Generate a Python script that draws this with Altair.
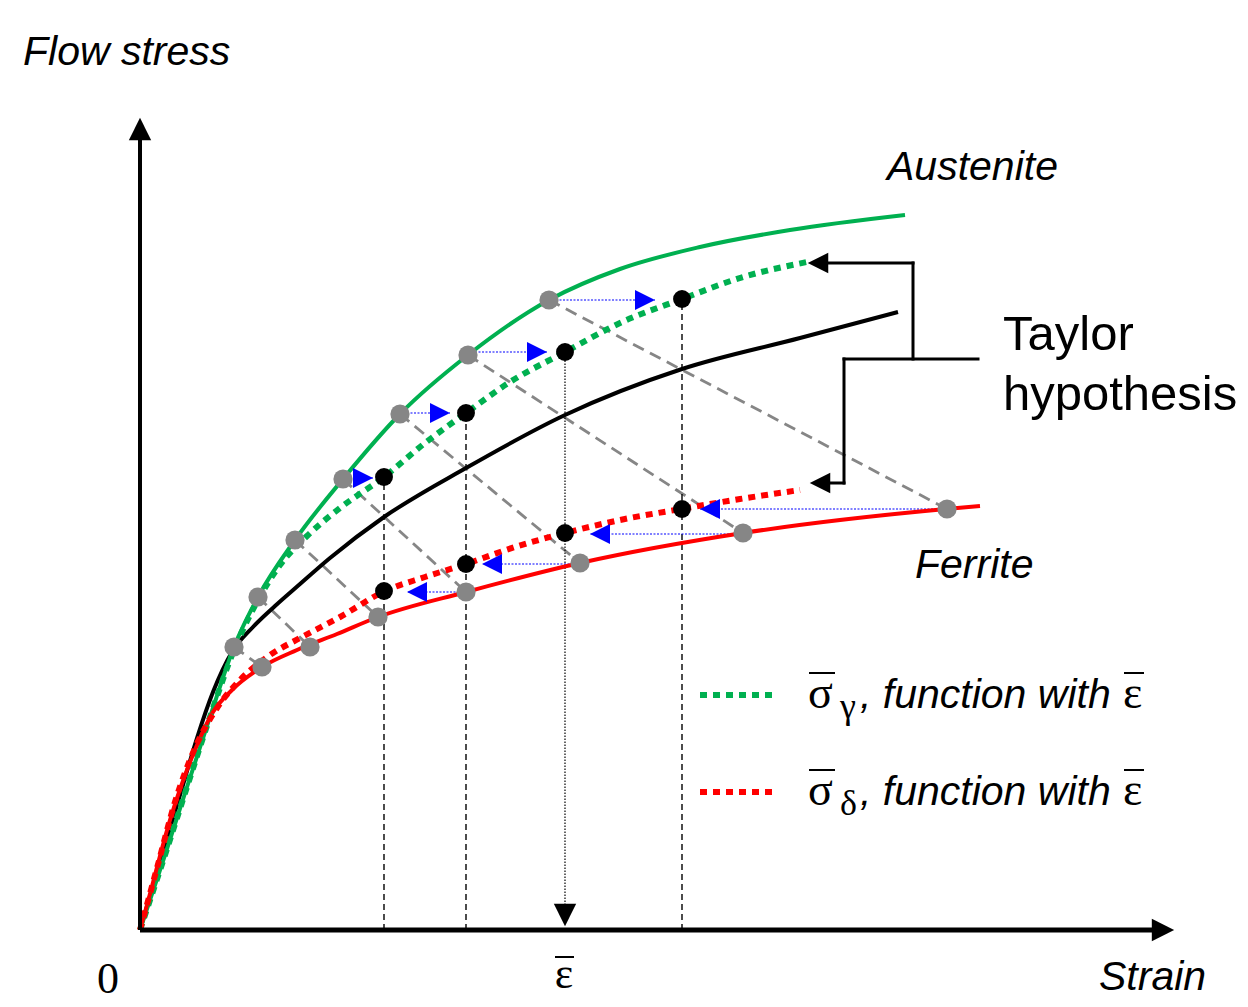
import altair as alt
import pandas as pd

# ---- curves (strain, stress) in drawing units, origin at 0,0 ----
aus_x = [0, 25, 47, 70, 94, 118, 155, 203, 260, 328, 409, 480, 560, 650, 765]
aus_y = [0, 75, 143, 213, 283, 333, 390, 451, 516, 575, 630, 661, 683, 700, 715]

sg_x = [0, 25, 47, 70, 94, 118, 140, 167, 200, 244, 285, 326, 370, 425, 480, 542, 603, 667]
sg_y = [0, 75, 143, 213, 280, 330, 365, 394, 422, 453, 487, 517, 548, 578, 607, 631, 653, 668]

mix_x = [0, 20, 40, 57, 73, 92, 113, 135, 160, 190, 244, 326, 425, 542, 660, 758]
mix_y = [0, 68, 135, 192, 238, 278, 303, 324, 346, 372, 413, 462, 515, 561, 592, 618]

fer_x = [0, 7, 30, 57, 73, 92, 122, 157, 197, 238, 326, 440, 603, 806, 840]
fer_y = [0, 25, 110, 185, 218, 240, 263, 280, 296, 313, 338, 367, 397, 421, 424]

sd_x = [0, 17, 35, 55, 77, 100, 130, 160, 200, 245, 285, 326, 375, 425, 480, 541, 600, 660]
sd_y = [0, 62, 128, 182, 222, 250, 275, 292, 313, 339, 353, 366, 383, 397, 410, 421, 431, 440]

# grey points on austenite / ferrite curves (paired)
ga_x = [94, 118, 155, 203, 260, 328, 409]
ga_y = [283, 333, 390, 451, 516, 575, 630]
gf_x = [122, 170, 238, 326, 440, 603, 807]
gf_y = [263, 283, 313, 338, 367, 397, 421]

# black points on the sigma-gamma / sigma-delta curves
bg_x = [244, 326, 425, 542]
bg_y = [453, 517, 578, 631]
bd_x = [244, 326, 425, 542]
bd_y = [339, 366, 397, 421]

# blue transfer arrows (start, tip, level)
br_x1 = [203, 260, 328, 409]
br_x2 = [233, 310, 407, 515]
br_y = [452, 517, 578, 630]
bl_x1 = [326, 440, 603, 807]
bl_x2 = [267, 342, 450, 560]
bl_y = [338, 366, 396, 421]

# Taylor bracket segments
tb_x1 = [688, 773, 704, 704, 690]
tb_x2 = [773, 773, 838, 704, 704]
tb_y1 = [667, 667, 571, 571, 447]
tb_y2 = [667, 571, 571, 447, 447]

# overbars for sigma / epsilon symbols
ob_x1 = [669, 669, 984, 984, 415]
ob_x2 = [695, 695, 1004, 1004, 434]
ob_y = [257, 160, 257, 160, -27]

XDOM = [-132, 1100]
YDOM = [-77, 922]

def X(f):
    return alt.X(f, type="quantitative", scale=alt.Scale(domain=XDOM, nice=False, zero=False), axis=None)

def Y(f):
    return alt.Y(f, type="quantitative", scale=alt.Scale(domain=YDOM, nice=False, zero=False), axis=None)

def curve(xs, ys, color, width, dash=None):
    df = pd.DataFrame({"strain": xs, "stress": ys})
    kw = dict(color=color, strokeWidth=width, interpolate="monotone", clip=False)
    if dash:
        kw["strokeDash"] = dash
    return alt.Chart(df).mark_line(**kw).encode(x=X("strain"), y=Y("stress"), order="strain:Q")

def rules(x1, y1, x2, y2, color, width, dash=None, cap="butt"):
    df = pd.DataFrame({"a": x1, "b": y1, "c": x2, "d": y2})
    kw = dict(color=color, strokeWidth=width, strokeCap=cap)
    if dash:
        kw["strokeDash"] = dash
    return alt.Chart(df).mark_rule(**kw).encode(x=X("a"), y=Y("b"), x2="c:Q", y2="d:Q")

def points(xs, ys, color, size, shape="circle"):
    df = pd.DataFrame({"a": xs, "b": ys})
    return alt.Chart(df).mark_point(filled=True, color=color, size=size, shape=shape,
                                    opacity=1, strokeWidth=0).encode(x=X("a"), y=Y("b"))

RIGHT = "M-1,-1L1,0L-1,1Z"
LEFT = "M1,-1L-1,0L1,1Z"
UP = "M-1,1L0,-1L1,1Z"
DOWN = "M-1,-1L0,1L1,-1Z"

GREEN = "#00B050"
RED = "#FF0000"
BLUE = "#0000FF"
GREY = "#868686"

layers = []
# grey dashed connectors
layers.append(rules(ga_x, ga_y, gf_x, gf_y, GREY, 2.8, [12, 7]))
# vertical guides
layers.append(rules([244, 326, 542], [0, 0, 0], [244, 326, 542], [453, 517, 631], "black", 1.4, [6, 4]))
layers.append(rules([425], [25], [425], [578], "black", 1.2, [1.5, 1.5]))
# blue transfers
layers.append(rules(br_x1, br_y, br_x2, br_y, BLUE, 1.2, [2, 1.5]))
layers.append(rules(bl_x1, bl_y, bl_x2, bl_y, BLUE, 1.2, [2, 1.5]))
# curves
layers.append(curve(mix_x, mix_y, "black", 4))
layers.append(curve(aus_x, aus_y, GREEN, 4))
layers.append(curve(fer_x, fer_y, RED, 4))
layers.append(curve(sg_x, sg_y, GREEN, 6, [7, 6]))
layers.append(curve(sd_x, sd_y, RED, 6, [7, 6]))
# legend samples
layers.append(rules([560], [235], [633], [235], GREEN, 6, [7, 6]))
layers.append(rules([560], [138], [633], [138], RED, 6, [7, 6]))
# axes
layers.append(rules([0], [0], [1015], [0], "black", 5))
layers.append(rules([0], [0], [0], [795], "black", 4))
# bracket
layers.append(rules(tb_x1, tb_y1, tb_x2, tb_y2, "black", 3, None, "square"))
# overbars
layers.append(rules(ob_x1, ob_y, ob_x2, ob_y, "black", 2))
# markers
layers.append(points(ga_x, ga_y, GREY, 370))
layers.append(points(gf_x, gf_y, GREY, 370))
layers.append(points(bg_x, bg_y, "black", 320))
layers.append(points(bd_x, bd_y, "black", 320))
# arrowheads
layers.append(points([x - 10 for x in br_x2], br_y, BLUE, 400, RIGHT))
layers.append(points([x + 10 for x in bl_x2], bl_y, BLUE, 400, LEFT))
layers.append(points([678, 680], [667, 447], "black", 420, LEFT))
layers.append(points([1023], [0], "black", 500, RIGHT))
layers.append(points([0], [801], "black", 500, UP))
layers.append(points([425], [15], "black", 500, DOWN))

# ---- text ----
SANS = "Liberation Sans, Arial, sans-serif"
SERIF = "Liberation Serif, Times New Roman, serif"

it_text = ["Flow stress", "Austenite", "Ferrite", "Strain", ", function with", ", function with"]
it_x = [-117, 747, 775, 959, 720, 720]
it_y = [865, 750, 352, -60, 222, 125]

reg_text = ["Taylor", "hypothesis"]
reg_x = [863, 863]
reg_y = [580, 520]

ser_text = ["\u03c3", "\u03c3", "\u03b5", "\u03b5"]
ser_x = [668, 668, 983, 983]
ser_y = [222, 125, 222, 125]

sub_text = ["\u03b3", "\u03b4"]
sub_x = [700, 700]
sub_y = [212, 115]

ctr_text = ["0", "\u03b5"]
ctr_x = [-32, 424]
ctr_y = [-63, -58]

def texts(t, xs, ys, font, size, style="normal", align="left"):
    df = pd.DataFrame({"t": t, "a": xs, "b": ys})
    return alt.Chart(df).mark_text(font=font, fontSize=size, fontStyle=style, align=align,
                                   baseline="alphabetic", color="black").encode(
        x=X("a"), y=Y("b"), text="t:N")

layers.append(texts(it_text, it_x, it_y, SANS, 41, "italic"))
layers.append(texts(reg_text, reg_x, reg_y, SANS, 49))
layers.append(texts(ser_text, ser_x, ser_y, SERIF, 46))
layers.append(texts(sub_text, sub_x, sub_y, SERIF, 36))
layers.append(texts(ctr_text, ctr_x, ctr_y, SERIF, 44, "normal", "center"))

chart = alt.layer(*layers).properties(
    width=1232, height=999, padding=0, autosize="none"
).configure_view(stroke=None)

chart.save("out.html", embed_options={"renderer": "svg", "actions": False})
